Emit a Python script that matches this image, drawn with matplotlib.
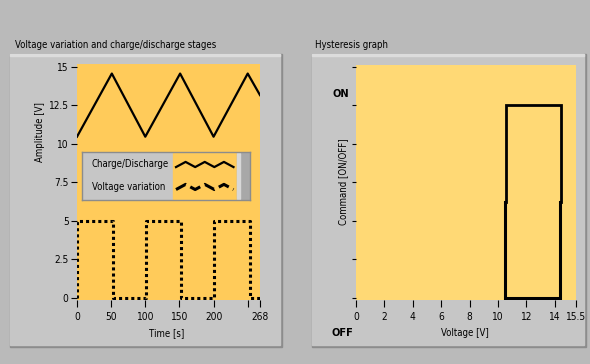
#!/usr/bin/env python3
import numpy as np
import matplotlib
matplotlib.use('Agg')
import matplotlib.pyplot as plt
from matplotlib.patches import Rectangle
from matplotlib.lines import Line2D
from matplotlib.legend_handler import HandlerBase

plt.rcParams['font.family'] = ['DejaVu Sans']
plt.rcParams['font.stretch'] = 'condensed'

# charge/discharge triangle (time [s], amplitude [V])
t_charge = [0, 51, 100, 151, 200, 250, 268]
v_charge = [10.45, 14.55, 10.45, 14.55, 10.45, 14.55, 13.15]

# voltage variation square wave
t_var = [0, 0.5, 0.5, 52, 52, 101, 101, 152, 152, 200, 200, 253, 253, 268]
v_var = [0, 0, 5, 5, 0, 0, 5, 5, 0, 0, 5, 5, 0, 0]

time_ticks = [0, 50, 100, 150, 200, 250, 268]
time_labels = ['0', '50', '100', '150', '200', '', '268']
amp_ticks = [0, 2.5, 5, 7.5, 10, 12.5, 15]
amp_labels = ['0', '2.5', '5', '7.5', '10', '12.5', '15']

# hysteresis loop (voltage [V], command level)
hyst_on_v = [10.55, 10.55, 14.45, 14.45]
hyst_on_c = [2.5, 5, 5, 2.5]
hyst_off_v = [14.35, 14.35, 10.5, 10.5]
hyst_off_c = [2.5, 0, 0, 2.5]

volt_ticks = [0, 2, 4, 6, 8, 10, 12, 14, 15.5]
volt_labels = ['0', '2', '4', '6', '8', '10', '12', '14', '15.5']
cmd_ticks = [0, 1, 2, 3, 4, 5, 6]

BG = '#bababa'
FRAME = '#c6c6c6'
ORANGE = '#ffcb5a'
YELLOW = '#ffd975'
W, H = 590, 364


def fx(px):
    return px / W


def fy(py):
    return 1 - py / H


def frame(fig, x0, y0, x1, y1):
    # bevelled LabVIEW-ish panel
    fig.patches.append(Rectangle((fx(x0), fy(y1 + 2)), fx(x1 - x0 + 2), (y1 - y0 + 2) / H,
                                 transform=fig.transFigure, color='#8c8c8c', zorder=-3))
    fig.patches.append(Rectangle((fx(x0), fy(y1)), fx(x1 - x0), (y1 - y0) / H,
                                 transform=fig.transFigure, color=FRAME, zorder=-2))
    fig.patches.append(Rectangle((fx(x0), fy(y0 + 2)), fx(x1 - x0), 2 / H,
                                 transform=fig.transFigure, color='#dcdcdc', zorder=-1))


class ZigZag(HandlerBase):
    def create_artists(self, legend, orig, xd, yd, w, h, fontsize, trans):
        xs = np.linspace(-xd, -xd + w, 7)
        ys = np.array([0, 1, 0, 1, 0, 1, 0]) * h * 0.6 + h * 0.2 - yd
        ln = Line2D(xs, ys, color=orig.get_color(), lw=orig.get_linewidth(),
                    linestyle=orig.get_linestyle())
        ln.set_transform(trans)
        return [ln]


fig = plt.figure(figsize=(5.9, 3.64), dpi=100, facecolor=BG)
frame(fig, 10, 54, 280, 345)
frame(fig, 312, 54, 584, 345)

fs = 6.9
fig.text(fx(15), fy(45), 'Voltage variation and charge/discharge stages', fontsize=fs, va='center')
fig.text(fx(315), fy(45), 'Hysteresis graph', fontsize=fs, va='center')

# left graph
ax = fig.add_axes([fx(77), fy(300), fx(260 - 77), 236 / H])
ax.set_facecolor(ORANGE)
l1, = ax.plot(t_charge, v_charge, color='black', lw=1.6)
l2, = ax.plot(t_var, v_var, color='black', lw=2.2, linestyle=(0, (1.0, 1.0)))
ax.set_xlim(0, 268)
ax.set_ylim(-0.15, 15.17)
ax.set_xticks(time_ticks)
ax.set_xticklabels(time_labels)
ax.set_yticks(amp_ticks)
ax.set_yticklabels(amp_labels)
for s in ax.spines.values():
    s.set_visible(False)
ax.tick_params(axis='x', length=5, width=0.8, pad=4, labelsize=fs + 0.4, direction='out')
ax.tick_params(axis='y', length=4, width=0.8, pad=2, labelsize=fs + 0.4, direction='out')
fig.text(fx(167), fy(333), 'Time [s]', fontsize=fs, ha='center', va='center')
fig.text(fx(40), fy(132), 'Amplitude [V]', fontsize=fs, rotation=90, ha='center', va='center')

# legend panel
lx0, ly0, lx1, ly1 = 82, 152, 250, 200
axl = fig.add_axes([fx(lx0), fy(ly1), fx(lx1 - lx0), (ly1 - ly0) / H])
axl.set_xlim(0, lx1 - lx0)
axl.set_ylim(ly1 - ly0, 0)
axl.set_facecolor(FRAME)
axl.set_xticks([])
axl.set_yticks([])
for s in axl.spines.values():
    s.set_color('#8c8c8c')
    s.set_linewidth(1.0)
axl.add_patch(Rectangle((91, 1), 64, 46, color=ORANGE, zorder=1))
axl.add_patch(Rectangle((155, 1), 12, 46, color='#a8a8a8', zorder=1))
axl.add_patch(Rectangle((155, 1), 3, 46, color='#d8d8d8', zorder=1))
axl.text(10, 12, 'Charge/Discharge', fontsize=fs, va='center', zorder=3)
axl.text(10, 35, 'Voltage variation', fontsize=fs, va='center', zorder=3)
leg = axl.legend([l1, l2], ['', ''], loc='center left', bbox_to_anchor=(94 / 168, 0.5),
                 frameon=False, handlelength=6.0, handleheight=1.0, labelspacing=1.3,
                 handletextpad=0, borderpad=0, borderaxespad=0, fontsize=fs,
                 handler_map={Line2D: ZigZag()})
leg.set_zorder(4)

# right graph
ax2 = fig.add_axes([fx(356), fy(300), fx(576 - 356), 235 / H])
ax2.set_facecolor(YELLOW)
ax2.plot(hyst_on_v, hyst_on_c, color='black', lw=2.0, solid_joinstyle='miter')
ax2.plot(hyst_off_v, hyst_off_c, color='black', lw=2.2, solid_joinstyle='miter')
ax2.set_xlim(0, 15.5)
ax2.set_ylim(-0.05, 6.04)
ax2.set_xticks(volt_ticks)
ax2.set_xticklabels(volt_labels)
ax2.set_yticks(cmd_ticks)
ax2.set_yticklabels([])
for s in ax2.spines.values():
    s.set_visible(False)
ax2.tick_params(axis='x', length=5, width=0.8, pad=4, labelsize=fs + 0.4, direction='out')
ax2.tick_params(axis='y', length=3, width=0.8, labelsize=fs, direction='out')
fig.text(fx(465), fy(333), 'Voltage [V]', fontsize=fs, ha='center', va='center')
fig.text(fx(343), fy(182), 'Command [ON/OFF]', fontsize=fs, rotation=90, ha='center', va='center')
fig.text(fx(341), fy(94), 'ON', fontsize=fs + 1, ha='center', va='center', fontweight='bold')
fig.text(fx(342), fy(333), 'OFF', fontsize=fs + 1, ha='center', va='center', fontweight='bold')

fig.savefig('out.png', dpi=100, facecolor=BG)
